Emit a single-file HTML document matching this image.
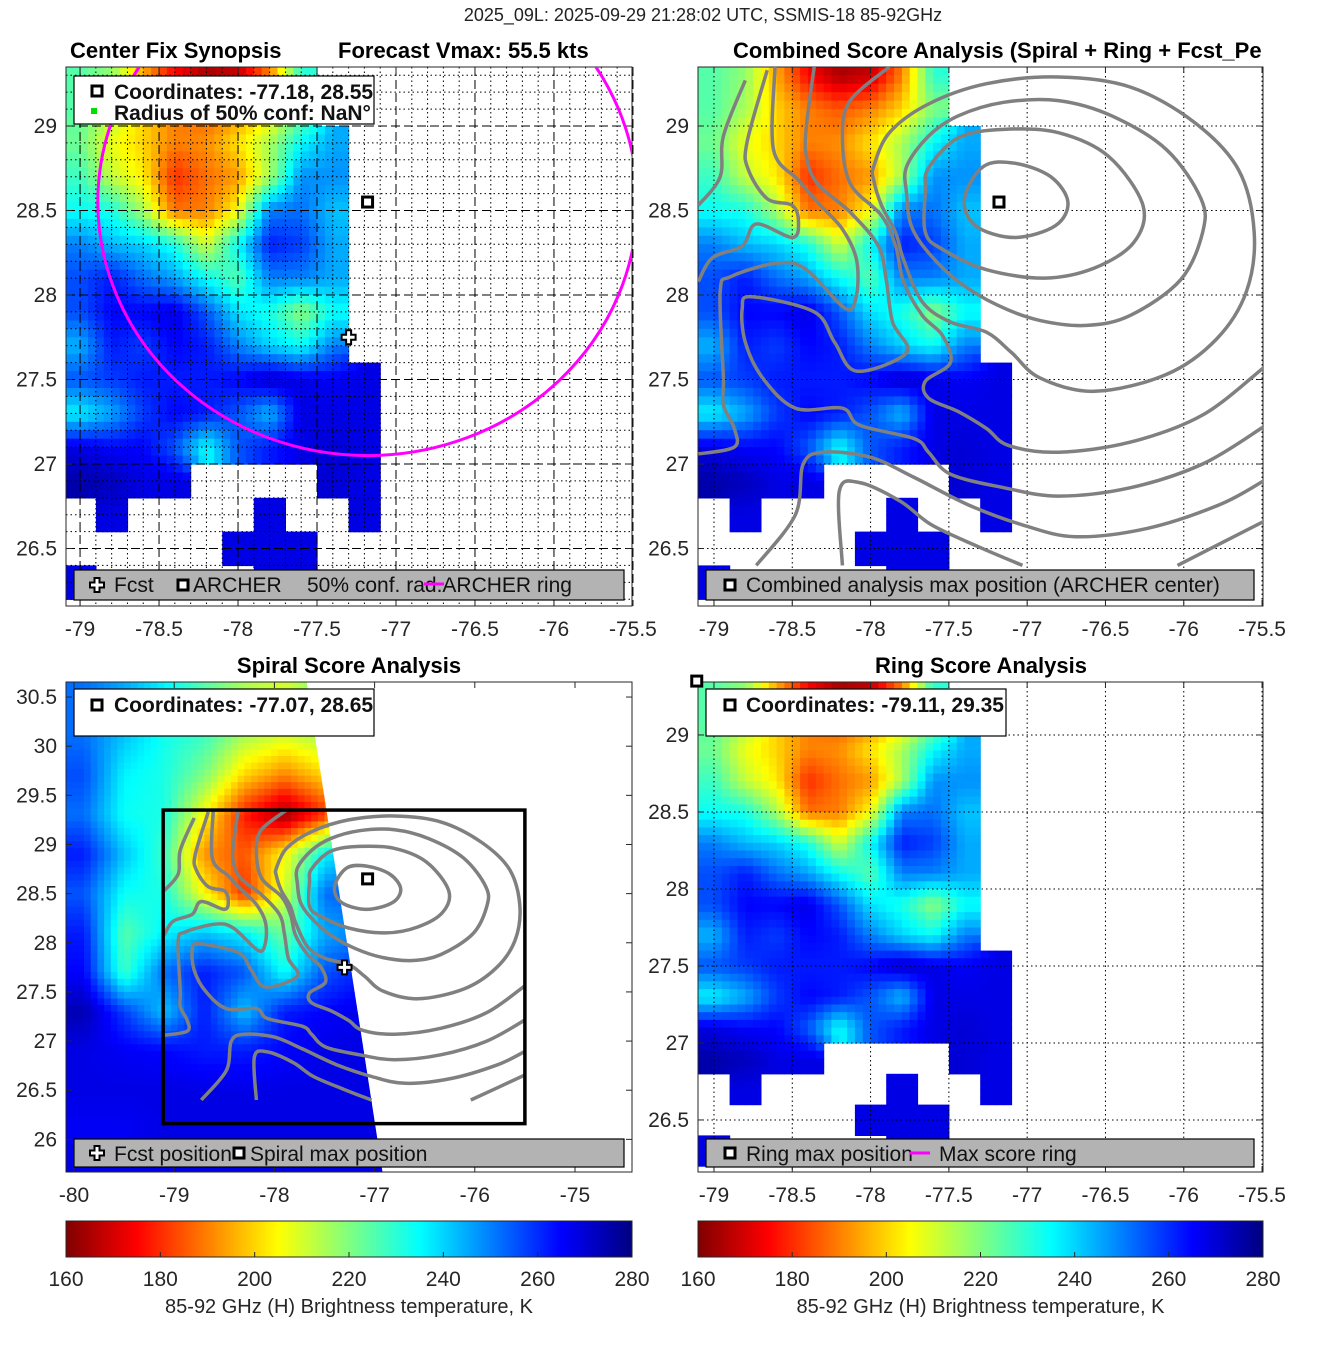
<!DOCTYPE html>
<html><head><meta charset="utf-8"><style>
html,body{margin:0;padding:0;background:#fff;}
svg{display:block;font-family:"Liberation Sans",sans-serif;}
</style></head><body>
<svg id="chart" width="1317" height="1350" viewBox="0 0 1317 1350" xmlns="http://www.w3.org/2000/svg">
<defs id="defs">
<linearGradient id="jetgrad" x1="0" x2="1" y1="0" y2="0">
<stop offset="0" stop-color="#800000"/><stop offset="0.125" stop-color="#ff0000"/><stop offset="0.375" stop-color="#ffff00"/><stop offset="0.625" stop-color="#00ffff"/><stop offset="0.875" stop-color="#0000ff"/><stop offset="1" stop-color="#000080"/>
</linearGradient>
</defs>
<text x="703" y="21" font-size="18" text-anchor="middle" fill="#222">2025_09L: 2025-09-29 21:28:02 UTC, SSMIS-18 85-92GHz</text>
<text x="70" y="58" font-size="22" font-weight="bold">Center Fix Synopsis</text>
<text x="338" y="58" font-size="22" font-weight="bold">Forecast Vmax: 55.5 kts</text>
<text x="733" y="58" font-size="22" font-weight="bold">Combined Score Analysis (Spiral + Ring + Fcst_Pe</text>
<text x="349" y="673" font-size="22" font-weight="bold" text-anchor="middle">Spiral Score Analysis</text>
<text x="981" y="673" font-size="22" font-weight="bold" text-anchor="middle">Ring Score Analysis</text>
</svg>
<script>
// ---------- data ----------
const tbLons = [-79.0,-78.8,-78.6,-78.4,-78.2,-78.0,-77.8,-77.6,-77.4,-77.2,-77.0];
const tbLats = [29.3,29.1,28.9,28.7,28.5,28.3,28.1,27.9,27.7,27.5,27.3,27.1,26.9,26.7,26.5,26.3];
const tbVals = [
[225,218,195,175,165,168,190,230,null,null,null],
[225,215,200,190,185,190,200,220,null,null,null],
[222,207,200,190,192,202,215,235,245,null,null],
[228,212,203,180,188,193,215,248,248,null,null],
[234,232,215,188,190,205,250,252,242,null,null],
[250,243,240,232,210,235,262,258,245,null,null],
[256,262,252,246,234,225,250,250,245,null,null],
[256,265,265,268,255,238,232,218,234,null,null],
[244,262,258,265,262,250,240,234,250,null,null],
[255,258,262,262,262,265,272,268,266,268,null],
[236,245,258,265,262,255,243,268,268,268,null],
[268,265,265,255,234,255,262,268,270,268,null],
[275,273,268,268,null,null,null,null,270,268,null],
[null,268,null,null,null,null,268,null,null,268,null],
[null,null,null,null,null,268,268,268,null,null,null],
[268,null,null,null,null,null,268,268,null,null,null]
];
const spLons = [-79.9,-79.5,-79.1,-78.7,-78.3,-77.9,-77.5,-77.1];
const spLats = [30.5,30.1,29.7,29.3,28.9,28.5,28.1,27.7,27.3,26.9,26.5,26.1,25.7];
const spVals = [
[252,245,236,225,215,210,220,230],
[252,242,233,228,215,210,215,230],
[256,236,232,220,200,190,200,230],
[252,234,232,205,178,163,180,230],
[262,242,228,192,185,205,236,245],
[255,234,232,205,180,210,252,255],
[262,225,236,242,236,222,245,250],
[265,228,252,262,255,234,255,262],
[274,258,242,262,242,262,265,268],
[268,266,265,262,262,265,268,268],
[268,268,268,268,268,268,268,268],
[266,266,268,268,268,268,268,268],
[268,268,268,268,268,268,268,268]
];
const swathEdgeLon = [-77.68,-76.92];
const swathEdgeLat = [30.66,25.66];
const cbTicks = [160,180,200,220,240,260,280];
const xTicksA = [-79,-78.5,-78,-77.5,-77,-76.5,-76,-75.5];
const xTickLabelsA = ['-79','-78.5','-78','-77.5','-77','-76.5','-76','-75.5'];
const yTicksA = [26.5,27,27.5,28,28.5,29];
const yTickLabelsA = ['26.5','27','27.5','28','28.5','29'];
const xTicksB = [-80,-79,-78,-77,-76,-75];
const xTickLabelsB = ['-80','-79','-78','-77','-76','-75'];
const yTicksB = [26,26.5,27,27.5,28,28.5,29,29.5,30,30.5];
const yTickLabelsB = ['26','26.5','27','27.5','28','28.5','29','29.5','30','30.5'];
const fcstPos = [-77.30,27.75];
const archerPos = [-77.18,28.55];
const spiralPos = [-77.07,28.65];
const ringPos = [-79.11,29.35];
const confRadiusDeg = 1.5;
const boxLon = [-79.11,-75.5];
const boxLat = [26.16,29.35];
const contours = [
 {closed:true, lon:[-77.40,-77.28,-77.08,-76.85,-76.74,-76.82,-77.08,-77.33], lat:[28.57,28.76,28.78,28.70,28.55,28.41,28.34,28.41]},
 {closed:true, lon:[-77.63,-77.44,-77.15,-76.80,-76.48,-76.26,-76.32,-76.57,-76.89,-77.26,-77.54,-77.65,-77.65], lat:[28.75,28.93,28.98,28.96,28.82,28.53,28.31,28.16,28.10,28.15,28.27,28.37,28.62]},
 {closed:true, lon:[-77.77,-77.63,-77.44,-77.15,-76.80,-76.46,-76.11,-75.89,-75.88,-76.02,-76.34,-76.62,-76.92,-77.19,-77.44,-77.63,-77.74,-77.77], lat:[28.76,28.94,29.06,29.14,29.15,29.06,28.86,28.57,28.37,28.09,27.88,27.82,27.85,27.94,28.08,28.25,28.41,28.60]},
 {closed:true, lon:[-77.98,-77.88,-77.63,-77.26,-76.80,-76.34,-75.93,-75.65,-75.55,-75.60,-75.79,-76.11,-76.57,-76.92,-77.10,-77.26,-77.49,-77.67,-77.79,-77.84,-77.93,-77.98], lat:[28.76,28.96,29.13,29.25,29.29,29.23,29.02,28.74,28.37,28.02,27.74,27.53,27.43,27.51,27.66,27.78,27.84,27.96,28.21,28.37,28.53,28.68]},
 {closed:false, lon:[-78.80,-78.94,-78.96,-79.10], lat:[29.27,28.94,28.70,28.53]},
 {closed:false, lon:[-78.66,-78.79,-78.78,-78.66,-78.50,-78.46,-78.50,-78.73,-78.82,-79.01,-79.10], lat:[29.33,28.90,28.74,28.57,28.53,28.43,28.34,28.42,28.29,28.22,28.08]},
 {closed:false, lon:[-78.61,-78.62,-78.46,-78.34,-78.18,-78.09,-78.09,-78.16,-78.41,-78.59,-78.89,-78.96,-78.94,-78.94,-78.87,-78.87,-79.10], lat:[29.35,28.86,28.68,28.55,28.39,28.21,28.00,27.92,28.15,28.19,28.11,28.02,27.51,27.35,27.21,27.10,27.06]},
 {closed:false, lon:[-78.36,-78.41,-78.41,-78.34,-78.13,-77.95,-77.90,-77.86,-77.77,-78.09,-78.23,-78.36,-78.76,-78.82,-78.80,-78.69,-78.48,-78.18,-78.07,-77.72,-77.63,-77.49,-77.15,-76.80,-76.34,-75.88,-75.49], lat:[29.35,29.00,28.82,28.66,28.49,28.29,28.09,27.84,27.66,27.55,27.72,27.90,27.99,27.92,27.72,27.51,27.33,27.33,27.23,27.15,27.07,26.94,26.86,26.81,26.86,27.00,27.22]},
 {closed:false, lon:[-77.88,-78.13,-78.18,-78.13,-77.93,-77.84,-77.79,-77.67,-77.54,-77.49,-77.65,-77.63,-77.44,-77.26,-77.12,-76.80,-76.34,-75.88,-75.49], lat:[29.35,29.15,28.94,28.66,28.47,28.29,28.08,27.88,27.76,27.60,27.49,27.39,27.31,27.21,27.11,27.07,27.13,27.29,27.57]},
 {closed:false, lon:[-78.73,-78.48,-78.43,-78.30,-78.00,-77.72,-77.38,-77.03,-76.69,-76.23,-75.77,-75.49], lat:[26.40,26.70,27.00,27.07,27.04,26.92,26.76,26.64,26.57,26.62,26.76,26.90]},
 {closed:false, lon:[-78.18,-78.20,-78.07,-77.81,-77.61,-77.31,-77.03], lat:[26.40,26.84,26.89,26.78,26.64,26.51,26.40]},
 {closed:false, lon:[-76.04,-75.49], lat:[26.40,26.66]}
];

// ---------- helpers ----------
const NS='http://www.w3.org/2000/svg';
const svg=document.getElementById('chart');
const defs=document.getElementById('defs');
function el(tag,attrs,parent){const e=document.createElementNS(NS,tag);for(const k in attrs)e.setAttribute(k,attrs[k]);(parent||svg).appendChild(e);return e;}
function clamp(v){return Math.max(0,Math.min(1,v));}
function tbColor(v){const t=1-(v-160)/120;const r=clamp(1.5-Math.abs(4*t-3)),g=clamp(1.5-Math.abs(4*t-2)),b=clamp(1.5-Math.abs(4*t-1));return 'rgb('+Math.round(r*255)+','+Math.round(g*255)+','+Math.round(b*255)+')';}
function mkPanel(px,py,lon,lat){return {px,py,lon,lat,
 x:function(v){return px[0]+(v-lon[0])/(lon[1]-lon[0])*(px[1]-px[0]);},
 y:function(v){return py[0]+(v-lat[0])/(lat[1]-lat[0])*(py[1]-py[0]);}};}
const P1=mkPanel([66,632],[67,606],[-79.089,-75.506],[29.349,26.160]);
const P2=mkPanel([698,1263],[67,606],[-79.102,-75.494],[29.349,26.160]);
const P3=mkPanel([66,632],[682,1172],[-80.08,-74.431],[30.653,25.668]);
const P4=mkPanel([698,1263],[682,1172],[-79.102,-75.494],[29.344,26.162]);

function clipFor(id,p){const c=el('clipPath',{id:id},defs);el('rect',{x:p.px[0],y:p.py[0],width:p.px[1]-p.px[0],height:p.py[1]-p.py[0]},c);return 'url(#'+id+')';}

function interp(vals,fi,fj){const i0=Math.floor(fi),j0=Math.floor(fj),di=fi-i0,dj=fj-j0;let s=0,w=0;
 [[i0,j0,(1-di)*(1-dj)],[i0+1,j0,di*(1-dj)],[i0,j0+1,(1-di)*dj],[i0+1,j0+1,di*dj]].forEach(q=>{
  if(q[0]<0||q[1]<0||q[0]>=vals.length||q[1]>=vals[0].length)return;const v=vals[q[0]][q[1]];if(v==null)return;s+=v*q[2];w+=q[2];});
 return w>0?s/w:null;}
function drawGrid(p,g,lons,lats,vals,dlon,dlat,n){
 for(let i=0;i<lats.length;i++)for(let j=0;j<lons.length;j++){if(vals[i][j]==null)continue;
  for(let a=0;a<n;a++)for(let b=0;b<n;b++){
   const fi=Math.max(0,Math.min(lats.length-1,i+(a+0.5)/n-0.5)),fj=Math.max(0,Math.min(lons.length-1,j+(b+0.5)/n-0.5));
   const v=interp(vals,fi,fj);
   const lonA=lons[j]-dlon/2+b*dlon/n,latA=lats[i]+dlat/2-a*dlat/n;
   const x0=p.x(lonA),x1=p.x(lonA+dlon/n),y0=p.y(latA),y1=p.y(latA-dlat/n);
   const r=el('rect',{x:x0.toFixed(1),y:y0.toFixed(1),width:(x1-x0+0.6).toFixed(1),height:(y1-y0+0.6).toFixed(1),fill:tbColor(v)},g);
   
   
  }}}
function smooth(pts,closed){const n=pts.length;let d='M'+pts[0][0].toFixed(1)+','+pts[0][1].toFixed(1);
 const get=i=>closed?pts[(i+n)%n]:pts[Math.max(0,Math.min(n-1,i))];
 const segs=closed?n:n-1;
 for(let i=0;i<segs;i++){const p0=get(i-1),p1=get(i),p2=get(i+1),p3=get(i+2);
  const c1=[p1[0]+(p2[0]-p0[0])/6,p1[1]+(p2[1]-p0[1])/6],c2=[p2[0]-(p3[0]-p1[0])/6,p2[1]-(p3[1]-p1[1])/6];
  d+=' C'+c1[0].toFixed(1)+','+c1[1].toFixed(1)+' '+c2[0].toFixed(1)+','+c2[1].toFixed(1)+' '+p2[0].toFixed(1)+','+p2[1].toFixed(1);}
 if(closed)d+='Z';return d;}
function drawContours(p,g){contours.forEach(c=>{const pts=c.lon.map((v,i)=>[p.x(v),p.y(c.lat[i])]);
 const path=el('path',{d:smooth(pts,c.closed),fill:'none',stroke:'#808080','stroke-width':3.5,'stroke-linejoin':'round'},g);
 
 });}
function sqMarker(g,x,y){return el('rect',{x:x-5,y:y-5,width:10,height:10,fill:'#fff',stroke:'#000','stroke-width':3},g);}
function plusMarker(g,x,y){const d='M'+(x-2.5)+','+(y-7)+'h5v4.5h4.5v5h-4.5v4.5h-5v-4.5h-4.5v-5h4.5z';return el('path',{d:d,fill:'#fff',stroke:'#000','stroke-width':2},g);}
function axes(p,name,xt,xl,yt,yl,gridMode){
 const g=el('g',{});
 const L=p.px[0],R=p.px[1],T=p.py[0],B=p.py[1];
 if(gridMode==='fine'){
  for(let v=Math.ceil(p.lon[0]*10);v<=p.lon[1]*10;v++){if(v%5===0)continue;const x=p.x(v/10);const l=el('line',{x1:x,x2:x,y1:T,y2:B,stroke:'#000','stroke-width':1,'stroke-dasharray':'1.5,3'},g);}
  for(let v=Math.ceil(p.lat[1]*10);v<=p.lat[0]*10;v++){if(v%5===0)continue;const y=p.y(v/10);const l=el('line',{x1:L,x2:R,y1:y,y2:y,stroke:'#000','stroke-width':1,'stroke-dasharray':'1.5,3'},g);}
 }
 if(gridMode){const dash=gridMode==='fine'?'9,4':'1.5,3';
  xt.forEach(v=>{const x=p.x(v);const l=el('line',{x1:x,x2:x,y1:T,y2:B,stroke:'#000','stroke-width':1,'stroke-dasharray':dash},g);});
  yt.forEach(v=>{const y=p.y(v);const l=el('line',{x1:L,x2:R,y1:y,y2:y,stroke:'#000','stroke-width':1,'stroke-dasharray':dash},g);});
 }
 const b=el('rect',{x:L,y:T,width:R-L,height:B-T,fill:'none',stroke:'#262626','stroke-width':1},g);
 
 xt.forEach((v,i)=>{const x=p.x(v);el('line',{x1:x,x2:x,y1:B,y2:B-6,stroke:'#262626'},g);el('line',{x1:x,x2:x,y1:T,y2:T+6,stroke:'#262626'},g);
  const t=el('text',{x:x,y:B+30,'font-size':21,'text-anchor':'middle',fill:'#262626'},g);t.textContent=xl[i];});
 yt.forEach((v,i)=>{const y=p.y(v);el('line',{x1:L,x2:L+6,y1:y,y2:y,stroke:'#262626'},g);el('line',{x1:R,x2:R-6,y1:y,y2:y,stroke:'#262626'},g);
  const t=el('text',{x:L-9,y:y+7,'font-size':21,'text-anchor':'end',fill:'#262626'},g);t.textContent=yl[i];});
}
function legendBox(x,y,w,h,fill,name){const r=el('rect',{x:x,y:y,width:w,height:h,fill:fill,stroke:'#000','stroke-width':1.2});return r;}
function txt(x,y,s,size,weight,name){const t=el('text',{x:x,y:y,'font-size':size,'font-weight':weight||'normal',fill:'#111'});t.textContent=s;return t;}

// ---------- panel 1 ----------
(function(){const p=P1;const g=el('g',{'clip-path':clipFor('c1',p)});
 drawGrid(p,g,tbLons,tbLats,tbVals,0.2,0.2,4);
 axes(p,'panel1',xTicksA,xTickLabelsA,yTicksA,yTickLabelsA,'fine');
 const g2=el('g',{'clip-path':'url(#c1)'});
 const rx=p.x(archerPos[0]+confRadiusDeg/Math.cos(archerPos[1]*Math.PI/180))-p.x(archerPos[0]);
 const ry=p.y(archerPos[1]-confRadiusDeg)-p.y(archerPos[1]);
 const ring=el('ellipse',{cx:p.x(archerPos[0]),cy:p.y(archerPos[1]),rx:rx,ry:ry,fill:'none',stroke:'#ff00ff','stroke-width':3},g2);
 
 const m1=sqMarker(g2,p.x(archerPos[0]),p.y(archerPos[1]));
 const m2=plusMarker(g2,p.x(fcstPos[0]),p.y(fcstPos[1]));
 legendBox(74,76,300,48,'#fff','panel1-info-legend');
 const lm=sqMarker(svg,97,91);
 txt(114,99,'Coordinates: -77.18, 28.55',21,'bold','coordinates-text');
 const gs=el('rect',{x:91,y:108,width:6,height:6,fill:'#00e000'});
 txt(114,120,'Radius of 50% conf: NaN°',21,'bold','radius-text');
 legendBox(74,570,550,30,'#b3b3b3','panel1-legend');
 const a=plusMarker(svg,97,585);
 txt(114,592,'Fcst',21,'normal','legend-fcst');
 const b=sqMarker(svg,183,585);
 txt(193,592,'ARCHER',21,'normal','legend-archer');
 txt(307,592,'50% conf. rad.ARCHER ring',21,'normal','legend-ring');
 const ml=el('line',{x1:424,x2:444,y1:584,y2:584,stroke:'#ff00ff','stroke-width':3});
})();

// ---------- panel 2 ----------
(function(){const p=P2;const g=el('g',{'clip-path':clipFor('c2',p)});
 drawGrid(p,g,tbLons,tbLats,tbVals,0.2,0.2,4);
 axes(p,'panel2',xTicksA,xTickLabelsA,yTicksA,yTickLabelsA,'dot');
 const g2=el('g',{'clip-path':'url(#c2)'});
 drawContours(p,g2);
 const m=sqMarker(g2,p.x(archerPos[0]),p.y(archerPos[1]));
 legendBox(706,570,548,30,'#b3b3b3','panel2-legend');
 const lm=sqMarker(svg,730,585);
 txt(746,592,'Combined analysis max position (ARCHER center)',21,'normal','legend-combined');
})();

// ---------- panel 3 ----------
(function(){const p=P3;const c=el('clipPath',{id:'c3s'},defs);
 const poly=[[p.px[0],p.py[0]],[p.x(swathEdgeLon[0]),p.y(swathEdgeLat[0])],[p.x(swathEdgeLon[1]),p.y(swathEdgeLat[1])],[p.px[0],p.py[1]+5]];
 el('polygon',{points:poly.map(q=>q.join(',')).join(' ')},c);
 const outer=el('g',{'clip-path':clipFor('c3',p)});
 const g=el('g',{'clip-path':'url(#c3s)'},outer);
 drawGrid(p,g,spLons,spLats,spVals,0.4,0.4,6);
 axes(p,'panel3',xTicksB,xTickLabelsB,yTicksB,yTickLabelsB,null);
 const bc=el('clipPath',{id:'c3b'},defs);
 el('rect',{x:p.x(boxLon[0]),y:p.y(boxLat[1]),width:p.x(boxLon[1])-p.x(boxLon[0]),height:p.y(boxLat[0])-p.y(boxLat[1])},bc);
 const g2=el('g',{'clip-path':'url(#c3b)'});
 drawContours(p,g2);
 const box=el('rect',{x:p.x(boxLon[0]),y:p.y(boxLat[1]),width:p.x(boxLon[1])-p.x(boxLon[0]),height:p.y(boxLat[0])-p.y(boxLat[1]),fill:'none',stroke:'#000','stroke-width':3.5});
 
 const m=sqMarker(svg,p.x(spiralPos[0]),p.y(spiralPos[1]));
 const f=plusMarker(svg,p.x(fcstPos[0]),p.y(fcstPos[1]));
 legendBox(74,689,300,47,'#fff','panel3-info-legend');
 const lm=sqMarker(svg,97,705);
 txt(114,712,'Coordinates: -77.07, 28.65',21,'bold','coordinates-text-p3');
 legendBox(74,1139,550,28,'#b3b3b3','panel3-legend');
 const a=plusMarker(svg,97,1153);
 txt(114,1161,'Fcst position',21,'normal','legend-fcst-p3');
 const b=sqMarker(svg,239,1153);
 txt(250,1161,'Spiral max position',21,'normal','legend-spiral');
})();

// ---------- panel 4 ----------
(function(){const p=P4;const g=el('g',{'clip-path':clipFor('c4',p)});
 drawGrid(p,g,tbLons,tbLats,tbVals,0.2,0.2,4);
 axes(p,'panel4',xTicksA,xTickLabelsA,yTicksA,yTickLabelsA,'dot');
 const m=sqMarker(svg,p.x(ringPos[0]),p.y(ringPos[1]));
 legendBox(706,689,300,47,'#fff','panel4-info-legend');
 const lm=sqMarker(svg,730,705);
 txt(746,712,'Coordinates: -79.11, 29.35',21,'bold','coordinates-text-p4');
 legendBox(706,1139,548,28,'#b3b3b3','panel4-legend');
 const b=sqMarker(svg,730,1153);
 txt(746,1161,'Ring max position',21,'normal','legend-ringmax');
 const ml=el('line',{x1:910,x2:930,y1:1153,y2:1153,stroke:'#ff00ff','stroke-width':3});
 txt(939,1161,'Max score ring',21,'normal','legend-maxring');
})();

// ---------- colorbars ----------
[[66,632,'colorbar-left'],[698,1263,'colorbar-right']].forEach(cb=>{
 const L=cb[0],R=cb[1];
 const r=el('rect',{x:L,y:1221,width:R-L,height:36,fill:'url(#jetgrad)',stroke:'#262626','stroke-width':1});
 
 cbTicks.forEach(v=>{const x=L+(v-160)/120*(R-L);el('line',{x1:x,x2:x,y1:1257,y2:1252,stroke:'#262626'});
  const t=el('text',{x:x,y:1286,'font-size':21,'text-anchor':'middle',fill:'#262626'});t.textContent=String(v);
  });
 const t=el('text',{x:(L+R)/2,y:1313,'font-size':20,'text-anchor':'middle',fill:'#262626'});
 t.textContent='85-92 GHz (H) Brightness temperature, K';
 
});
</script>
</body></html>
